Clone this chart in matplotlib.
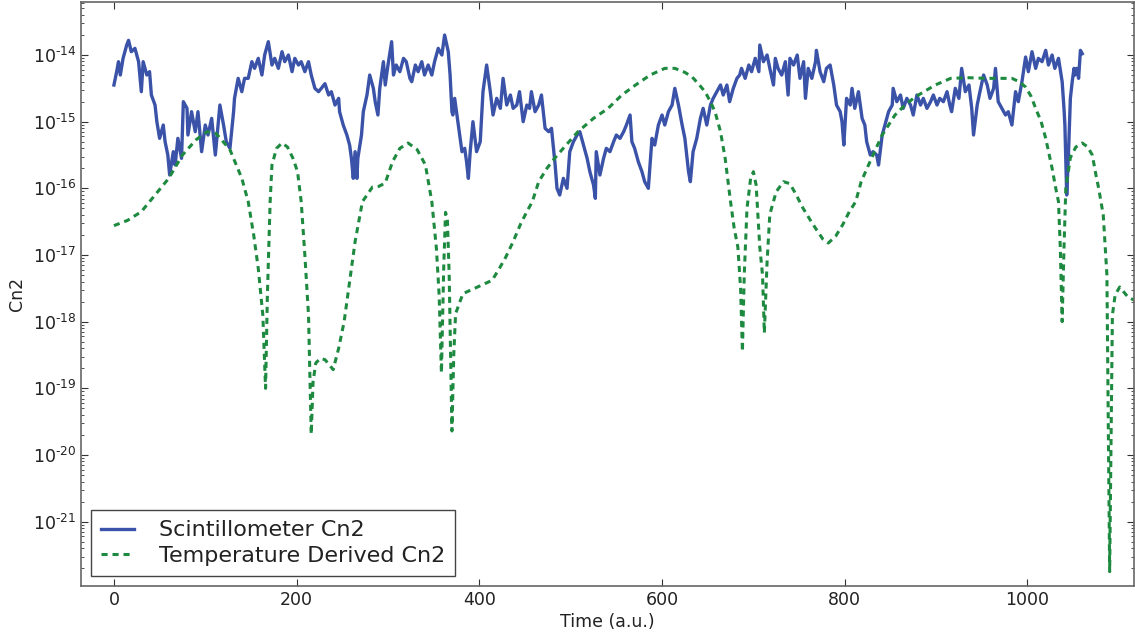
import numpy as np
import matplotlib
matplotlib.use('Agg')
import matplotlib.pyplot as plt
from matplotlib.ticker import FuncFormatter, FixedLocator, LogLocator

# Scintillometer Cn2 (time, log10 value)
scint_t = [0, 3, 5, 7, 10, 14, 16, 19, 23, 27, 30, 32, 36, 39, 41, 45, 47, 50, 54, 56,
           59, 61, 65, 67, 70, 74, 76, 80, 81, 85, 89, 92, 96, 100, 103, 107, 111, 114, 116, 120,
           123, 127, 131, 132, 136, 140, 143, 147, 151, 154, 158, 162, 165, 169, 173, 176, 180, 184, 187, 191,
           195, 198, 202, 205, 209, 213, 216, 220, 224,
           227, 231, 235, 238, 242, 246, 247, 249, 251, 255, 258, 260, 262, 264, 266, 267, 271, 273, 277, 280,
           284, 286, 289, 291, 295, 297, 300, 304, 306, 309, 313, 317, 320, 324, 326, 330, 333, 337, 340, 344,
           348, 351, 355, 359, 362, 366, 368, 370, 371, 373, 377, 381, 384, 386, 388, 390, 393, 397, 401, 404,
           408, 412, 415, 419, 423, 426, 430, 434, 437, 441, 444, 448, 452, 455,
           457, 461, 465, 468, 472, 476, 479, 483, 485, 488, 492, 496, 499, 503, 507, 510, 514, 518, 521, 525,
           527, 528, 532, 536, 539, 543, 547, 550, 554, 558, 561, 565, 567, 570, 574, 578, 581, 585, 589, 592,
           596, 600, 603, 607, 611, 614, 618, 622, 625, 629, 631, 634, 638, 642, 645, 649, 653, 656, 660, 664,
           667, 671, 674, 678, 682, 685,
           687, 691, 695, 698, 702, 706, 707, 711, 715, 718, 722, 724, 727, 731, 735, 738, 740, 744, 748, 751,
           755, 757, 760, 764, 768, 769, 773, 777, 780, 784, 788, 791, 795, 797, 799, 802, 806, 808, 811, 815,
           819, 822, 824, 828, 831, 835, 837, 841, 844, 848, 852, 853, 857, 861, 864, 868, 872, 875, 879, 883,
           886, 890, 894, 897, 901, 904, 908, 912, 915,
           917, 921, 925, 928, 932, 936, 939, 941, 945, 948, 952, 956, 959, 963, 965, 968, 972, 976, 979, 983,
           987, 990, 994, 998, 1001, 1005, 1009, 1012, 1016, 1020, 1023, 1027, 1030, 1034, 1038, 1040, 1041, 1043,
           1045, 1047, 1049, 1051, 1052, 1054, 1056, 1058, 1060]
scint_log = [-14.45, -14.25, -14.10, -14.30, -14.05, -13.85, -13.78, -13.95, -13.90, -14.10, -14.55, -14.10, -14.30, -14.25, -14.60, -14.75, -15.00, -15.25, -15.05, -15.30,
             -15.50, -15.80, -15.45, -15.65, -15.25, -15.55, -14.70, -14.80, -15.20, -14.85, -15.15, -14.85, -15.45, -15.05, -15.20, -14.95, -15.50, -15.05, -14.75, -15.05,
             -15.30, -15.40, -14.85, -14.65, -14.35, -14.55, -14.35, -14.35, -14.10, -14.20, -14.05, -14.30, -14.00, -13.80, -14.15, -14.05, -14.20, -13.95, -14.10, -14.00,
             -14.25, -14.05, -14.15, -14.10, -14.25, -14.10, -14.30, -14.50, -14.55,
             -14.50, -14.43, -14.60, -14.55, -14.75, -14.65, -14.85, -14.95, -15.05, -15.20, -15.35, -15.55, -15.85, -15.45, -15.85, -15.55, -15.20, -14.85, -14.60, -14.30,
             -14.50, -14.70, -14.90, -14.50, -14.10, -14.45, -14.15, -13.80, -14.30, -14.15, -14.25, -14.05, -14.10, -14.35, -14.40, -14.15, -14.25, -14.10, -14.30, -14.15,
             -14.30, -14.10, -13.90, -14.00, -13.70, -13.95, -14.30, -14.85, -14.90, -14.65, -15.05, -15.45, -15.40, -15.60, -15.85, -15.45, -15.00, -15.45, -15.30, -14.55,
             -14.15, -14.55, -14.90, -14.65, -14.80, -14.35, -14.75, -14.60, -14.80, -14.75, -14.55, -15.00, -14.75, -14.80,
             -14.55, -14.85, -14.75, -14.60, -15.10, -15.15, -15.10, -15.65, -16.00, -16.10, -15.85, -16.00, -15.45, -15.30, -15.20, -15.15, -15.35, -15.55, -15.75, -15.95,
             -16.15, -15.45, -15.80, -15.55, -15.40, -15.45, -15.30, -15.20, -15.25, -15.15, -15.05, -14.90, -15.30, -15.40, -15.60, -15.75, -15.90, -16.00, -15.25, -15.35,
             -15.05, -14.90, -15.05, -14.85, -14.75, -14.50, -14.75, -15.05, -15.25, -15.75, -15.90, -15.45, -15.25, -14.95, -14.80, -15.05, -14.75, -14.65, -14.55, -14.45,
             -14.60, -14.45, -14.70, -14.50, -14.35, -14.30,
             -14.20, -14.35, -14.15, -14.25, -14.05, -14.25, -13.85, -14.10, -14.00, -14.20, -14.45, -14.05, -14.20, -14.30, -14.10, -14.60, -14.05, -14.15, -14.00, -14.35,
             -14.10, -14.65, -14.20, -14.35, -14.10, -13.93, -14.25, -14.40, -14.20, -14.15, -14.45, -14.75, -14.85, -15.00, -15.35, -14.65, -14.75, -14.50, -14.80, -14.55,
             -14.95, -15.05, -15.30, -15.50, -15.45, -15.50, -15.65, -15.20, -15.05, -14.85, -14.75, -14.50, -14.70, -14.60, -14.80, -14.65, -14.75, -14.90, -14.60, -14.75,
             -14.65, -14.80, -14.70, -14.60, -14.75, -14.65, -14.70, -14.55, -14.75,
             -14.85, -14.50, -14.65, -14.20, -14.55, -14.45, -14.80, -15.20, -14.75, -14.55, -14.30, -14.45, -14.65, -14.50, -14.20, -14.70, -14.80, -14.90, -14.85, -15.05,
             -14.55, -14.70, -14.40, -14.03, -14.25, -13.95, -14.20, -14.05, -14.10, -13.93, -14.15, -14.00, -14.20, -14.05, -14.40, -14.80, -15.05, -16.10,
             -15.45, -14.65, -14.40, -14.20, -14.30, -14.20, -14.35, -13.93, -13.98]

# Temperature derived Cn2 (time, log10 value)
temp_t = [0, 15, 30, 45, 60, 75, 90, 102, 112, 127, 140, 147, 153, 158, 163, 166, 168, 171, 173, 178,
          184, 190, 196, 201, 205, 209, 213, 216, 218, 221, 226, 231, 236, 240, 246, 252, 258, 264, 272, 283,
          290, 297, 305, 313, 322, 332, 341, 348, 353, 356, 358.5, 361, 363, 365, 367, 370, 372, 374, 382, 398,
          414, 422, 429, 437, 445, 452, 458, 465, 474, 483, 495, 508, 525, 541, 556, 571, 587, 603, 614, 625,
          633, 641, 647, 653, 658, 664, 669, 675, 679, 683, 686, 688, 690, 693, 697, 700, 703, 707, 710, 712,
          715, 718, 725, 733, 740, 747, 754, 762, 770, 776, 782, 790, 798, 805, 812, 818, 826, 841, 855, 866,
          877, 899, 916, 935, 954, 970, 983, 991, 998, 1004, 1009, 1015, 1020, 1027, 1031, 1034, 1036, 1038, 1040, 1042,
          1047, 1053, 1060, 1066, 1071, 1075, 1078, 1083, 1087, 1090, 1093, 1096, 1101, 1110, 1120]
temp_log = [-16.56, -16.48, -16.35, -16.10, -15.85, -15.50, -15.27, -15.15, -15.18, -15.42, -15.85, -16.20, -16.70, -17.20, -17.90, -19.00, -17.60, -16.20, -15.65, -15.40,
            -15.32, -15.38, -15.55, -15.75, -16.20, -17.00, -17.90, -19.69, -18.90, -18.62, -18.55, -18.57, -18.65, -18.72, -18.40, -18.00, -17.40, -16.80, -16.20, -15.98,
            -15.97, -15.92, -15.60, -15.40, -15.32, -15.42, -15.65, -16.20, -16.90, -17.60, -18.77, -17.20, -16.36, -16.45, -17.30, -19.64, -18.50, -17.88, -17.58, -17.48,
            -17.38, -17.20, -17.03, -16.80, -16.54, -16.35, -16.20, -15.90, -15.70, -15.54, -15.35, -15.15, -14.95, -14.80, -14.60, -14.45, -14.30, -14.20, -14.20, -14.26,
            -14.33, -14.45, -14.55, -14.70, -14.85, -15.15, -15.54, -16.20, -16.60, -16.88, -17.50, -18.45, -17.30, -16.30, -15.85, -15.75, -15.95, -16.88, -17.30, -18.17,
            -17.10, -16.39, -16.05, -15.90, -15.93, -16.10, -16.29, -16.47, -16.64, -16.76, -16.82, -16.72, -16.54, -16.35, -16.20, -15.90, -15.65, -15.20, -14.90, -14.75,
            -14.63, -14.45, -14.35, -14.34, -14.35, -14.35, -14.35, -14.40, -14.48, -14.62, -14.80, -15.00, -15.25, -15.70, -16.00, -16.20, -16.90, -18.00, -16.90, -16.00,
            -15.54, -15.38, -15.32, -15.38, -15.50, -15.80, -16.00, -16.40, -17.30, -21.75, -17.90, -17.60, -17.48, -17.63, -17.70]

# decade exponents that carry a tick label
y_exponents = [-21, -20, -19, -18, -17, -16, -15, -14]

plt.rcParams['font.family'] = 'DejaVu Sans'
plt.rcParams['mathtext.fontset'] = 'dejavusans'

fig = plt.figure(figsize=(11.35, 6.32), dpi=100)
ax = fig.add_axes([0.0714, 0.0728, 0.928, 0.924])

ax.plot(scint_t, 10 ** np.array(scint_log), color='#3a52a8', lw=2.4, label='Scintillometer Cn2')
ax.plot(temp_t, 10 ** np.array(temp_log), color='#1e8a40', lw=2.2, dashes=(2.0, 1.6),
        label='Temperature Derived Cn2')

ax.set_yscale('log')
ax.set_xlim(-36, 1117)
ax.set_ylim(10 ** -21.965, 10 ** -13.205)
ax.set_xticks([0, 200, 400, 600, 800, 1000])
ax.yaxis.set_major_locator(FixedLocator([10.0 ** e for e in y_exponents]))
ax.yaxis.set_minor_locator(LogLocator(base=10, subs=np.arange(2, 10)))


def sci_label(v, pos):
    e = int(round(np.log10(v)))
    return r'$\mathdefault{10^{\text{-}%d}}$' % (-e)


ax.yaxis.set_major_formatter(FuncFormatter(sci_label))
ax.yaxis.set_minor_formatter(FuncFormatter(lambda v, pos: ''))

ax.tick_params(which='both', direction='in', top=True, right=True, labelsize=12.5,
               colors='#333333', labelcolor='#222222')
ax.tick_params(which='major', length=5, width=0.8, pad=3.5)
ax.tick_params(which='minor', length=2.5, width=0.6)
for s in ax.spines.values():
    s.set_color('#666666')
    s.set_linewidth(1.2)

ax.set_xlabel('Time (a.u.)', fontsize=12.5, color='#222222', labelpad=3)
ax.set_ylabel('Cn2', fontsize=12.5, color='#222222', labelpad=5)

leg = ax.legend(loc='lower left', fontsize=16, handlelength=1.5, handletextpad=1.1,
                borderpad=0.45, labelspacing=0.25, borderaxespad=0.45, fancybox=False,
                framealpha=1)
leg.get_frame().set_edgecolor('#444444')
leg.get_frame().set_linewidth(1.0)
for txt in leg.get_texts():
    txt.set_color('#222222')

fig.savefig('out.png', dpi=100)
